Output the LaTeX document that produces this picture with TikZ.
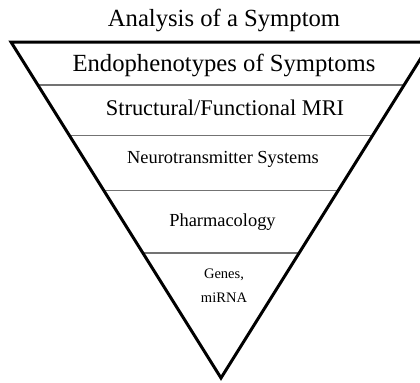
\documentclass[tikz,border=0pt]{standalone}
\usepackage{fontspec}
\setmainfont{Liberation Serif}
\usetikzlibrary{calc}

\tikzset{
    bigtext/.style={anchor=base, inner sep=0pt, font=\fontsize{18.5}{20}\selectfont},
    midtext/.style={anchor=base, inner sep=0pt, font=\fontsize{16.8}{18}\selectfont},
    smalltext/.style={anchor=base, inner sep=0pt, font=\fontsize{13.8}{15}\selectfont},
    tinytext/.style={anchor=base, inner sep=0pt, font=\fontsize{10.9}{12}\selectfont},
    divider/.style={draw=black!55, line width=0.8pt}
}

\begin{document}
\begin{tikzpicture}[x=0.75pt, y=-0.75pt]
    \clip (0, 0) rectangle (420, 382);

    \coordinate (tl) at (11, 42);
    \coordinate (tr) at (431, 42);
    \coordinate (tip) at (221, 378);

    % level dividers
    \coordinate (l1) at ($(tl)!0.128!(tip)$);
    \coordinate (r1) at ($(tr)!0.128!(tip)$);
    \coordinate (l2) at ($(tl)!0.277!(tip)$);
    \coordinate (r2) at ($(tr)!0.277!(tip)$);
    \coordinate (l3) at ($(tl)!0.443!(tip)$);
    \coordinate (r3) at ($(tr)!0.443!(tip)$);
    \coordinate (l4) at ($(tl)!0.628!(tip)$);
    \coordinate (r4) at ($(tr)!0.628!(tip)$);
    \draw[divider] (l1) -- (r1);
    \draw[divider] (l2) -- (r2);
    \draw[divider] (l3) -- (r3);
    \draw[divider] (l4) -- (r4);

    \draw[line width=2.25pt, line join=miter] (tl) -- (tr) -- (tip) -- cycle;

    \node[bigtext] (title) at (224, 26.7) {Analysis of a Symptom};
    \node[bigtext] (endo) at (224, 71.7) {Endophenotypes of Symptoms};
    \node[midtext] (mri) at (225, 115) {Structural/Functional MRI};
    \node[smalltext] (neuro) at (223, 163.3) {Neurotransmitter Systems};
    \node[smalltext] (pharma) at (222.5, 226) {Pharmacology};
    \node[tinytext] (genes) at (224, 278.3) {Genes,};
    \node[tinytext] (mirna) at (224, 302.7) {miRNA};
\end{tikzpicture}
\end{document}
